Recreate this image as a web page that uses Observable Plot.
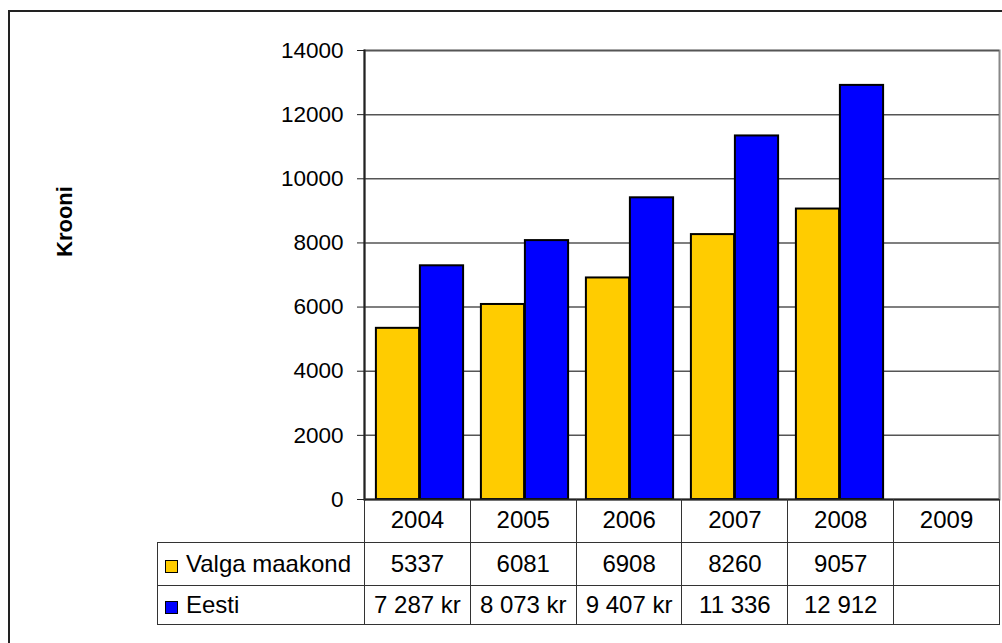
<!DOCTYPE html>
<html>
<head>
<meta charset="utf-8">
<script src="https://cdn.jsdelivr.net/npm/d3@7"></script>
<script src="https://cdn.jsdelivr.net/npm/@observablehq/plot@0.6"></script>
<style>
  html, body { margin: 0; padding: 0; background: #fff; }
  #wrap { position: relative; width: 1002px; height: 643px; overflow: hidden; font-family: "Liberation Sans", Arial, sans-serif; }
  #outer { position: absolute; left: 8px; top: 10px; width: 1200px; height: 800px; border-left: 2px solid #222; border-top: 2px solid #222; }
  #chart { position: absolute; left: 0; top: 0; }
  #chart svg { overflow: visible; background: transparent; }
  #table { position: absolute; left: 157px; top: 499px; border-collapse: collapse; table-layout: fixed; font-size: 24px; color: #000; }
  #table td { padding: 0; text-align: center; white-space: nowrap; overflow: hidden; }
  #table td.yr, #table td.val { border: 1.5px solid #333; }
  #table td.yr { border-top: none; }
  #table td.lg { border: 1.5px solid #333; text-align: left; padding-left: 7px; }
  #table td.blank { border: none; border-right: 1.5px solid #333; }
  .sw { display: inline-block; width: 11px; height: 11px; border: 1.5px solid #000; vertical-align: -1px; margin-right: 8px; }
</style>
</head>
<body>
<div id="wrap">
  <div id="outer"></div>
  <div id="chart"></div>
  <table id="table"></table>
</div>
<script>
const years = ["2004", "2005", "2006", "2007", "2008", "2009"];
const valga = [5337, 6081, 6908, 8260, 9057, null];
const eesti = [7287, 8073, 9407, 11336, 12912, null];
const valgaText = ["5337", "6081", "6908", "8260", "9057", ""];
const eestiText = ["7 287 kr", "8 073 kr", "9 407 kr", "11 336", "12 912", ""];
const seriesNames = ["Valga maakond", "Eesti"];
const seriesColors = ["#FFCC00", "#0000FF"];
const yTicks = [0, 2000, 4000, 6000, 8000, 10000, 12000, 14000];
const yLabel = "Krooni";

const rows = (vals) => years.map((y, i) => ({year: y, value: vals[i]})).filter(d => d.value != null);

const plot = Plot.plot({
  width: 1002,
  height: 500,
  marginLeft: 364,
  marginRight: 3,
  marginTop: 50,
  marginBottom: 1,
  style: {fontFamily: "'Liberation Sans', Arial, sans-serif", fontSize: "22px", color: "#000", background: "transparent", overflow: "visible"},
  x: {domain: years, padding: 0, axis: null},
  y: {domain: [0, 14000], axis: null},
  marks: [
    Plot.frame({stroke: "#888", strokeWidth: 2}),
    Plot.ruleY(yTicks.slice(1), {stroke: "#555", strokeWidth: 1.5}),
    Plot.barY(rows(valga), {x: "year", y: "value", fill: seriesColors[0], stroke: "#000", strokeWidth: 2, insetLeft: 8.9, insetRight: 52.9}),
    Plot.barY(rows(eesti), {x: "year", y: "value", fill: seriesColors[1], stroke: "#000", strokeWidth: 2, insetLeft: 52.9, insetRight: 8.9}),
    Plot.ruleY([0], {stroke: "#222", strokeWidth: 2}),
    Plot.frame({anchor: "left", stroke: "#222", strokeWidth: 2}),
    Plot.axisY({ticks: yTicks, tickSize: 7, tickPadding: 14, fontSize: 22.5, label: null, tickFormat: d => String(d), stroke: "#222"}),
    Plot.text([yLabel], {frameAnchor: "left", rotate: -90, dx: -300, dy: -18, fontWeight: "bold", fontSize: 22, fill: "#000"})
  ]
});
document.getElementById("chart").appendChild(plot);

// data table (legend + values) below the chart
const colW = (999 - 364) / years.length;
const table = document.getElementById("table");
const cg = document.createElement("colgroup");
cg.innerHTML = `<col style="width:207px">` + years.map(() => `<col style="width:${colW}px">`).join("");
table.appendChild(cg);
const hdr = document.createElement("tr");
hdr.style.height = "43px";
hdr.innerHTML = `<td class="blank"></td>` + years.map(y => `<td class="yr">${y}</td>`).join("");
table.appendChild(hdr);
const texts = [valgaText, eestiText];
const heights = ["43.5px", "39px"];
seriesNames.forEach((name, k) => {
  const tr = document.createElement("tr");
  tr.style.height = heights[k];
  tr.innerHTML = `<td class="lg"><span class="sw" style="background:${seriesColors[k]}"></span>${name}</td>` +
    texts[k].map(t => `<td class="val">${t}</td>`).join("");
  table.appendChild(tr);
});
</script>
</body>
</html>
